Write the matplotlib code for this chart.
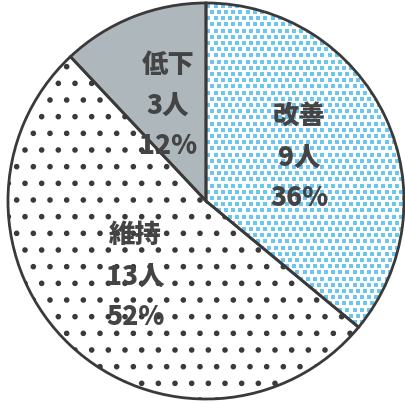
import numpy as np
import matplotlib.pyplot as plt

plt.rcParams['font.family'] = ['Noto Sans CJK JP', 'DejaVu Sans']
plt.rcParams['hatch.linewidth'] = 1.6

labels = ['改善', '維持', '低下']
counts = [9, 13, 3]
percents = [36, 52, 12]

faces = ['white', 'white', '#aeb8bc']
dot_colors = ['white', '#3a3a3a', '#aeb8bc']
hatches = ['', '.', '']

fig = plt.figure(figsize=(4.06, 4.03), dpi=100)
ax = fig.add_axes([6 / 406, 2 / 403, 400 / 406, 400 / 403])

# fills first, the hatch takes the edge colour
wedges, _ = ax.pie(counts, startangle=90, counterclock=False, radius=1,
                   colors=faces, wedgeprops=dict(linewidth=0))
for w, h, c in zip(wedges, hatches, dot_colors):
    w.set_hatch(h)
    w.set_edgecolor(c)

# fine blue stipple for the first wedge, clipped to its shape
step = 0.036
gx, gy = np.meshgrid(np.arange(-1.05, 1.05, step), np.arange(-1.05, 1.05, step * 0.87))
gx = gx + (np.arange(gx.shape[0])[:, None] % 2) * step / 2
dots = ax.scatter(gx.ravel(), gy.ravel(), s=9, marker='s', color='#6cc6ee',
                  linewidths=0, zorder=wedges[0].get_zorder() + 0.1)
dots.set_clip_path(wedges[0])

# outlines on top
outline, _ = ax.pie(counts, startangle=90, counterclock=False, radius=1,
                    colors=['none'] * 3,
                    wedgeprops=dict(linewidth=2, edgecolor='#3a3a3a', zorder=3))

for w, lab, n, p in zip(wedges, labels, counts, percents):
    mid = np.deg2rad((w.theta1 + w.theta2) / 2)
    r = 0.52
    ax.text(r * np.cos(mid), r * np.sin(mid), f'{lab}\n{n}人\n{p}%',
            ha='center', va='center', fontsize=19, fontweight='heavy',
            color='#444444', linespacing=1.55, zorder=4)

ax.set_xlim(-1.01, 1.01)
ax.set_ylim(-1.01, 1.01)
ax.set_aspect('equal')
ax.axis('off')
fig.savefig('out.png', dpi=100)
